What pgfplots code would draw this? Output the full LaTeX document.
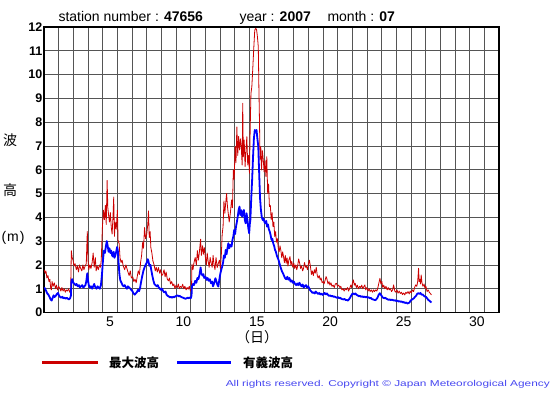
\documentclass[border=0pt]{standalone}
\usepackage{pgfplots}
\pgfplotsset{compat=1.18}
\usepackage{fontspec}
\setmainfont{Liberation Sans}
\newfontfamily\jp{Noto Sans CJK JP}
\definecolor{maxred}{RGB}{204,0,0}
\definecolor{sigblue}{RGB}{0,0,255}
\definecolor{gridc}{RGB}{85,85,85}
\definecolor{copyc}{RGB}{70,70,240}
\pgfplotstableread{
x y
0.50 1.80
0.58 1.65
0.63 1.75
0.70 1.45
0.77 1.55
0.84 1.30
0.90 1.40
0.95 1.05
1.00 0.95
1.05 1.30
1.12 1.10
1.20 1.25
1.28 1.00
1.35 1.15
1.42 0.95
1.50 1.10
1.58 1.00
1.65 0.90
1.72 1.05
1.80 0.90
1.88 1.00
1.95 0.85
2.02 0.95
2.10 0.90
2.18 1.00
2.25 0.85
2.32 0.95
2.36 2.60
2.42 2.30
2.48 2.20
2.55 1.95
2.62 2.05
2.70 1.80
2.78 1.95
2.85 1.70
2.92 2.00
3.00 1.85
3.08 1.75
3.15 2.00
3.22 1.80
3.30 1.95
3.38 2.05
3.45 3.40
3.50 2.20
3.55 1.80
3.62 2.00
3.70 1.85
3.78 2.10
3.85 2.50
3.92 1.90
4.00 2.30
4.05 1.75
4.12 1.95
4.20 1.80
4.28 2.00
4.35 1.90
4.40 2.20
4.48 3.60
4.55 4.30
4.62 3.90
4.68 4.50
4.74 3.70
4.80 5.55
4.85 4.40
4.90 4.10
4.96 3.80
5.02 4.20
5.08 3.60
5.14 3.30
5.20 4.00
5.25 4.85
5.30 3.20
5.35 3.80
5.42 3.50
5.50 4.30
5.55 3.00
5.62 2.90
5.68 2.30
5.75 2.10
5.82 2.20
5.90 1.95
6.00 1.80
6.08 2.00
6.15 1.85
6.22 1.70
6.30 1.55
6.38 1.75
6.45 1.45
6.55 1.50
6.62 1.30
6.70 1.40
6.78 1.25
6.85 1.50
6.92 1.75
7.00 1.60
7.08 2.10
7.15 2.40
7.22 2.94
7.28 2.70
7.35 3.57
7.42 3.10
7.50 3.29
7.57 3.70
7.62 4.27
7.67 3.15
7.73 3.40
7.78 2.73
7.85 2.50
7.92 2.17
8.00 2.00
8.08 1.75
8.15 1.90
8.22 1.70
8.30 1.89
8.38 1.65
8.45 1.80
8.52 1.55
8.60 1.61
8.68 1.80
8.75 1.50
8.82 1.70
8.90 1.40
8.98 1.33
9.05 1.45
9.12 1.20
9.20 1.30
9.28 1.12
9.35 1.20
9.42 1.00
9.50 1.15
9.58 1.05
9.65 1.20
9.72 1.00
9.80 1.10
9.88 1.05
9.95 1.19
10.02 1.00
10.10 1.10
10.18 0.95
10.25 1.05
10.32 0.98
10.40 1.10
10.48 0.90
10.55 1.00
10.58 2.03
10.65 1.80
10.72 2.10
10.80 2.31
10.88 2.00
10.95 2.60
11.02 2.20
11.08 2.50
11.17 3.08
11.22 2.40
11.30 2.80
11.36 2.45
11.42 2.73
11.50 2.30
11.56 2.00
11.62 2.50
11.68 2.17
11.75 1.90
11.82 2.31
11.90 2.05
11.96 1.90
12.02 2.40
12.08 2.03
12.15 1.80
12.22 2.31
12.30 1.89
12.38 2.07
12.45 2.20
12.52 1.85
12.58 2.40
12.64 3.29
12.70 3.61
12.76 4.69
12.82 4.17
12.88 4.60
12.94 5.00
13.00 4.45
13.06 4.13
13.12 3.80
13.20 4.20
13.28 4.73
13.34 4.40
13.40 5.99
13.46 5.60
13.52 6.97
13.58 6.30
13.64 7.80
13.70 6.60
13.76 7.40
13.82 6.83
13.88 7.30
13.94 6.97
14.00 6.20
14.04 8.79
14.08 6.54
14.14 7.25
14.20 6.13
14.26 6.80
14.32 7.39
14.38 6.20
14.44 6.60
14.50 5.85
14.55 7.80
14.60 9.21
14.66 9.49
14.72 10.20
14.80 11.20
14.86 11.87
14.92 11.94
14.98 11.90
15.04 11.60
15.10 11.17
15.14 9.50
15.18 8.09
15.22 6.41
15.27 6.97
15.32 5.99
15.38 6.80
15.44 6.41
15.50 5.90
15.56 6.41
15.62 5.71
15.68 6.55
15.74 5.00
15.80 5.40
15.86 4.45
15.92 4.50
15.98 3.90
16.04 4.20
16.10 3.61
16.16 3.80
16.22 3.19
16.28 3.40
16.34 2.95
16.40 3.10
16.46 2.70
16.52 2.55
16.58 2.80
16.64 2.60
16.70 2.30
16.76 2.55
16.82 2.35
16.88 2.10
16.94 2.40
17.00 2.07
17.06 2.30
17.12 1.95
17.18 2.20
17.26 2.35
17.32 2.00
17.38 2.15
17.45 1.90
17.52 2.07
17.58 1.85
17.65 2.00
17.72 1.80
17.78 1.95
17.85 2.25
17.92 2.07
17.98 1.85
18.05 1.95
18.12 1.75
18.18 1.85
18.25 2.10
18.32 1.90
18.38 1.95
18.45 1.80
18.52 2.05
18.58 2.20
18.65 1.95
18.72 1.60
18.78 1.75
18.85 1.55
18.92 1.80
18.98 1.65
19.05 1.90
19.12 1.55
19.18 1.45
19.25 1.55
19.32 1.37
19.38 1.45
19.45 1.25
19.52 1.30
19.58 1.20
19.65 1.35
19.72 1.51
19.78 1.40
19.85 1.20
19.92 1.30
19.98 1.15
20.05 1.25
20.12 1.10
20.20 1.15
20.28 1.05
20.35 1.20
20.42 1.23
20.50 1.10
20.58 1.15
20.66 1.05
20.72 1.10
20.80 0.95
20.88 1.00
20.95 0.90
21.02 1.00
21.10 0.95
21.18 1.05
21.25 0.90
21.32 1.00
21.40 1.15
21.46 1.05
21.52 1.25
21.58 1.37
21.64 1.15
21.70 1.23
21.78 1.05
21.85 1.15
21.92 1.00
22.00 1.10
22.08 1.05
22.15 1.15
22.22 1.00
22.30 1.10
22.36 1.16
22.42 0.95
22.50 1.05
22.58 0.90
22.65 1.00
22.72 0.88
22.80 0.95
22.88 0.85
22.95 0.95
23.02 0.88
23.10 0.95
23.18 0.90
23.25 1.05
23.32 1.25
23.39 1.44
23.45 1.20
23.52 1.30
23.58 1.05
23.65 1.15
23.72 1.00
23.80 1.10
23.88 0.95
23.95 1.05
24.02 0.95
24.10 1.00
24.18 0.88
24.25 0.95
24.32 1.16
24.40 0.90
24.48 0.85
24.55 0.95
24.62 0.81
24.70 0.90
24.78 0.80
24.86 0.85
24.92 0.75
25.00 0.82
25.08 0.74
25.15 0.85
25.22 0.80
25.30 0.88
25.38 0.78
25.45 0.90
25.52 0.82
25.60 0.95
25.68 0.88
25.75 1.05
25.82 1.16
25.90 1.10
25.96 1.30
26.02 1.86
26.06 1.30
26.10 1.40
26.15 1.20
26.20 1.58
26.25 1.25
26.32 1.10
26.40 1.20
26.45 1.02
26.52 1.10
26.60 0.88
26.68 0.95
26.75 0.85
26.82 0.80
26.90 0.74
}\maxwave
\pgfplotstableread{
x y
0.50 1.05
0.58 1.00
0.65 0.90
0.72 0.80
0.80 0.75
0.88 0.65
0.95 0.55
1.02 0.50
1.08 0.60
1.15 0.72
1.22 0.65
1.30 0.70
1.38 0.78
1.45 0.82
1.52 0.72
1.60 0.65
1.68 0.62
1.75 0.66
1.82 0.60
1.90 0.62
1.98 0.58
2.05 0.62
2.12 0.58
2.20 0.55
2.28 0.60
2.33 0.70
2.37 1.35
2.42 1.40
2.50 1.25
2.58 1.20
2.65 1.15
2.72 1.20
2.80 1.10
2.88 1.15
2.95 1.05
3.02 1.10
3.10 1.15
3.18 1.05
3.25 1.10
3.32 1.15
3.38 1.30
3.45 1.65
3.50 1.35
3.55 1.15
3.62 1.05
3.70 1.10
3.78 1.00
3.85 1.10
3.92 1.20
4.00 1.05
4.08 1.00
4.15 1.10
4.22 1.05
4.30 1.00
4.38 1.15
4.45 1.60
4.52 2.20
4.58 2.60
4.65 2.50
4.72 2.80
4.78 3.00
4.84 2.80
4.90 2.55
4.96 2.70
5.02 2.50
5.08 2.60
5.14 2.40
5.20 2.35
5.25 2.55
5.30 2.30
5.36 2.40
5.42 2.55
5.48 2.75
5.53 2.60
5.58 2.10
5.64 1.60
5.70 1.35
5.78 1.25
5.85 1.15
5.92 1.10
6.00 1.15
6.08 1.05
6.15 1.00
6.22 1.10
6.30 1.05
6.38 1.00
6.45 0.95
6.52 0.90
6.60 0.80
6.68 0.75
6.75 0.80
6.82 0.85
6.90 0.95
6.98 0.90
7.05 1.05
7.12 1.30
7.20 1.55
7.27 1.75
7.35 1.90
7.42 2.00
7.50 2.10
7.57 2.24
7.62 2.15
7.68 1.96
7.75 2.00
7.82 1.75
7.88 1.55
7.95 1.35
8.02 1.20
8.10 1.15
8.18 1.10
8.25 1.15
8.32 1.05
8.40 1.00
8.48 0.95
8.55 1.00
8.62 0.90
8.70 0.84
8.78 0.88
8.85 0.75
8.92 0.70
9.00 0.68
9.08 0.63
9.15 0.66
9.22 0.62
9.30 0.66
9.38 0.64
9.45 0.68
9.52 0.70
9.60 0.72
9.68 0.68
9.75 0.70
9.82 0.66
9.90 0.64
9.98 0.62
10.05 0.60
10.12 0.58
10.20 0.59
10.28 0.62
10.35 0.60
10.42 0.63
10.50 0.60
10.55 0.70
10.58 1.10
10.65 1.20
10.72 1.15
10.80 1.33
10.88 1.25
10.95 1.45
11.02 1.40
11.10 1.60
11.17 1.89
11.22 1.65
11.30 1.55
11.36 1.61
11.42 1.45
11.50 1.50
11.58 1.37
11.65 1.45
11.72 1.33
11.80 1.40
11.88 1.23
11.95 1.30
12.02 1.10
12.10 1.25
12.18 1.44
12.25 1.30
12.32 1.15
12.38 1.09
12.45 1.40
12.52 1.65
12.58 1.80
12.64 1.93
12.70 2.10
12.76 2.40
12.82 2.30
12.88 2.63
12.94 2.45
13.00 2.70
13.06 2.91
13.12 2.70
13.20 2.85
13.28 2.77
13.34 3.05
13.40 3.20
13.46 3.47
13.52 3.30
13.58 3.60
13.64 3.80
13.70 4.03
13.76 4.30
13.82 4.45
13.88 4.10
13.94 4.30
14.00 4.03
14.06 4.20
14.12 4.31
14.18 3.90
14.24 3.75
14.30 4.17
14.36 3.90
14.42 3.55
14.48 3.33
14.52 3.70
14.56 3.89
14.62 4.80
14.68 5.57
14.74 6.50
14.80 7.30
14.86 7.67
14.92 7.60
14.98 7.67
15.04 7.30
15.10 6.97
15.16 5.85
15.22 4.80
15.28 4.31
15.34 4.00
15.40 3.89
15.46 3.95
15.52 3.80
15.58 3.75
15.64 3.85
15.70 3.61
15.76 3.70
15.82 3.50
15.88 3.40
15.94 3.25
16.00 3.05
16.06 3.10
16.12 2.90
16.18 2.80
16.24 2.63
16.30 2.55
16.36 2.40
16.42 2.30
16.48 2.21
16.55 2.05
16.62 1.90
16.70 1.75
16.78 1.65
16.85 1.55
16.92 1.45
17.00 1.40
17.08 1.50
17.15 1.38
17.22 1.45
17.30 1.30
17.38 1.35
17.45 1.25
17.52 1.30
17.60 1.20
17.68 1.15
17.75 1.22
17.82 1.15
17.90 1.25
17.98 1.15
18.05 1.10
18.12 1.18
18.20 1.05
18.28 1.12
18.35 1.15
18.42 1.05
18.50 1.10
18.58 1.00
18.65 0.92
18.72 0.88
18.80 0.82
18.88 0.85
18.95 0.80
19.02 0.88
19.10 0.82
19.18 0.78
19.25 0.82
19.32 0.76
19.40 0.80
19.48 0.74
19.55 0.78
19.62 0.82
19.70 0.76
19.78 0.80
19.85 0.74
19.92 0.70
20.00 0.72
20.08 0.68
20.15 0.70
20.22 0.66
20.30 0.67
20.38 0.64
20.45 0.62
20.52 0.65
20.60 0.60
20.68 0.62
20.75 0.58
20.82 0.56
20.90 0.55
20.98 0.57
21.05 0.52
21.12 0.53
21.20 0.50
21.28 0.55
21.35 0.62
21.42 0.70
21.50 0.78
21.58 0.80
21.65 0.76
21.72 0.80
21.80 0.74
21.88 0.72
21.95 0.68
22.02 0.70
22.10 0.66
22.18 0.68
22.25 0.65
22.32 0.67
22.40 0.64
22.48 0.66
22.55 0.62
22.62 0.64
22.70 0.60
22.78 0.61
22.85 0.56
22.92 0.55
23.00 0.53
23.08 0.52
23.15 0.56
23.22 0.62
23.30 0.74
23.38 0.81
23.45 0.75
23.52 0.68
23.60 0.62
23.68 0.60
23.75 0.62
23.82 0.58
23.90 0.56
23.98 0.53
24.05 0.55
24.12 0.52
24.20 0.54
24.28 0.52
24.35 0.50
24.42 0.52
24.50 0.48
24.58 0.50
24.65 0.46
24.72 0.48
24.80 0.45
24.88 0.46
24.95 0.42
25.02 0.44
25.10 0.40
25.18 0.42
25.25 0.38
25.32 0.39
25.40 0.42
25.48 0.50
25.55 0.54
25.62 0.56
25.70 0.60
25.78 0.66
25.85 0.70
25.92 0.78
26.00 0.81
26.08 0.78
26.15 0.82
26.22 0.75
26.30 0.76
26.38 0.70
26.45 0.67
26.52 0.66
26.60 0.60
26.68 0.53
26.75 0.50
26.82 0.46
26.90 0.42
}\sigwave
\begin{document}
\begin{tikzpicture}[x=1pt,y=1pt]
\path[use as bounding box] (0,0) rectangle (555,395);
\begin{axis}[
  at={(44pt,82.5pt)}, anchor=south west,
  width=455pt, height=285.5pt, scale only axis,
  xmin=0.5, xmax=31.5, ymin=0, ymax=12,
  xtick={5,10,...,30},
  minor xtick={1.5,2.5,...,30.5},
  ytick={0,1,...,12},
  xminorgrids=true, ymajorgrids=true,
  grid style={gridc, line width=0.7pt},
  minor grid style={gridc, line width=0.7pt},
  major tick length=0pt, minor tick length=0pt,
  axis line style={black, line width=1.6pt},
  /pgf/number format/assume math mode=true,
  xticklabel style={font=\fontsize{14}{16}\selectfont, yshift=-1pt},
  yticklabel style={font=\fontsize{12.5}{14}\selectfont\bfseries, inner sep=1.5pt},
  clip=true,
]
\addplot[maxred, line width=0.8pt, line join=round] table[x=x,y=y] {\maxwave};
\addplot[sigblue, line width=1.8pt, line join=round] table[x=x,y=y] {\sigwave};
\end{axis}
\node[anchor=base west, font=\fontsize{14}{16}\selectfont] at (55,373) {station number : \textbf{47656}};
\node[anchor=base west, font=\fontsize{14}{16}\selectfont] at (236,373) {year : \textbf{2007}};
\node[anchor=base west, font=\fontsize{14}{16}\selectfont] at (324,373) {month : \textbf{07}};
\node[font=\jp\fontsize{14}{16}\selectfont] at (10,255) {波};
\node[font=\jp\fontsize{14}{16}\selectfont] at (10,205) {高};
\node[font=\fontsize{14}{16}\selectfont, inner sep=0pt] at (13,157) {(\kern1pt m\kern1pt)};
\node[font=\jp\fontsize{14}{16}\selectfont] at (257,58) {（日）};
\draw[maxred, line width=3pt] (42,32) -- (98,32);
\node[font=\jp\bfseries\fontsize{12.5}{14}\selectfont] at (134,32) {最大波高};
\draw[sigblue, line width=3pt] (177,32) -- (231,32);
\node[font=\jp\bfseries\fontsize{12.5}{14}\selectfont] at (268,32) {有義波高};
\node[anchor=east, text=copyc, font=\fontsize{8.5}{10}\selectfont, inner sep=0pt] at (550,11) {\resizebox{324pt}{\height}{All rights reserved. Copyright © Japan Meteorological Agency}};
\end{tikzpicture}
\end{document}
